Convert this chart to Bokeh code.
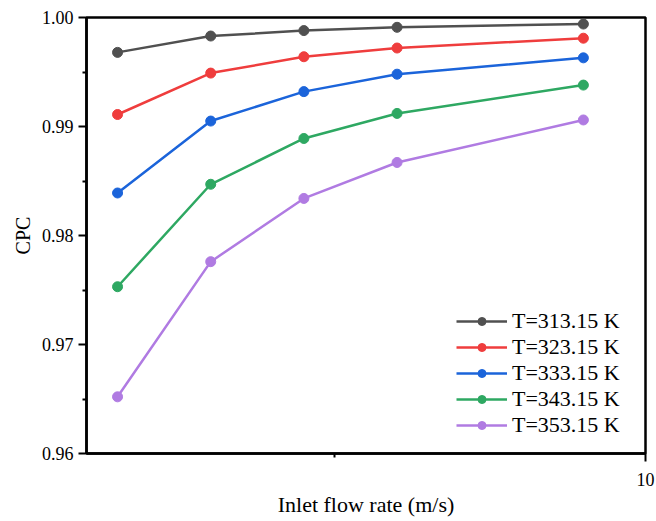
from bokeh.plotting import figure
from bokeh.models import Range1d, FixedTicker, PrintfTickFormatter, Legend, LegendItem
from bokeh.embed import file_html
from bokeh.resources import INLINE

flow_rate = [1.5, 3, 4.5, 6, 9]
cpc_313 = [0.9968, 0.9983, 0.9988, 0.9991, 0.9994]
cpc_323 = [0.9911, 0.9949, 0.9964, 0.9972, 0.9981]
cpc_333 = [0.9839, 0.9905, 0.9932, 0.9948, 0.9963]
cpc_343 = [0.9753, 0.9847, 0.9889, 0.9912, 0.9938]
cpc_353 = [0.9652, 0.9776, 0.9834, 0.9867, 0.9906]
series_labels = ["T=313.15 K", "T=323.15 K", "T=333.15 K", "T=343.15 K", "T=353.15 K"]
series_values = [cpc_313, cpc_323, cpc_333, cpc_343, cpc_353]
colors = ["#505050", "#ef3d3d", "#1b64da", "#2ea862", "#b07be2"]

x_ticks = [10]
x_minor = [5]
y_ticks = [0.96, 0.97, 0.98, 0.99, 1.00]
y_minor = [0.965, 0.975, 0.985, 0.995]

FONT = "Liberation Serif"

p = figure(width=656, height=521, output_backend="svg", toolbar_location=None,
           x_range=Range1d(1, 10), y_range=Range1d(0.96, 1.00),
           min_border_left=86, min_border_right=11, min_border_top=17, min_border_bottom=68)
p.xgrid.visible = False
p.ygrid.visible = False
p.outline_line_color = "black"
p.outline_line_width = 2.5
p.outline_line_alpha = 1

items = []
for lab, vals, col in zip(series_labels, series_values, colors):
    r1 = p.line(flow_rate, vals, line_color=col, line_width=2.5)
    r2 = p.scatter(flow_rate, vals, size=10, fill_color=col, line_color=col, line_width=1)
    items.append(LegendItem(label=lab, renderers=[r1, r2]))

for ax in (p.xaxis[0], p.yaxis[0]):
    ax.axis_line_width = 2.5
    ax.axis_line_color = "black"
    ax.major_tick_line_width = 2
    ax.minor_tick_line_width = 2
    ax.major_tick_out = 8
    ax.major_tick_in = 0
    ax.minor_tick_out = 4
    ax.minor_tick_in = 0
    ax.major_label_text_font = FONT
    ax.major_label_text_font_size = "18px"
    ax.major_label_text_color = "black"
    ax.axis_label_text_font = FONT
    ax.axis_label_text_font_style = "normal"
    ax.axis_label_text_color = "black"

p.xaxis[0].ticker = FixedTicker(ticks=x_ticks, minor_ticks=x_minor)
p.yaxis[0].ticker = FixedTicker(ticks=y_ticks, minor_ticks=y_minor)
p.yaxis[0].formatter = PrintfTickFormatter(format="%.2f")
p.xaxis[0].axis_label = "Inlet flow rate (m/s)"
p.yaxis[0].axis_label = "CPC"
p.xaxis[0].axis_label_text_font_size = "22px"
p.yaxis[0].axis_label_text_font_size = "20px"
p.xaxis[0].major_label_standoff = 11
p.xaxis[0].axis_label_standoff = 3
p.yaxis[0].major_label_standoff = 5
p.yaxis[0].axis_label_standoff = 5

legend = Legend(items=items, location=(370, 15))
legend.padding = 0
legend.margin = 0
legend.border_line_alpha = 0
legend.background_fill_alpha = 0
legend.glyph_width = 51
legend.glyph_height = 20
legend.label_height = 20
legend.spacing = 0
legend.label_standoff = 5
legend.label_text_font = FONT
legend.label_text_font_size = "22px"
legend.label_text_color = "black"
p.add_layout(legend, "center")

open("out.html", "w").write(file_html(p, INLINE))
